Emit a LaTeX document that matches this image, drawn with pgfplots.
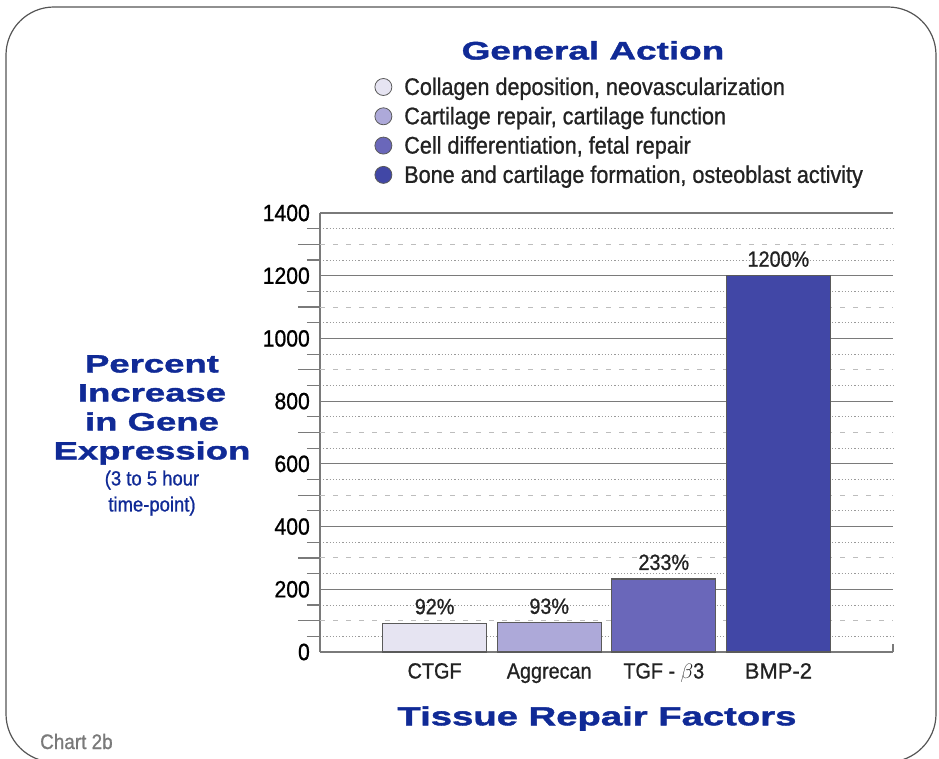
\documentclass[border=0pt]{standalone}
\usepackage{fontspec}
\setmainfont{Liberation Sans}[FakeStretch=0.9, FakeBold=0.9]
\newfontfamily\widefont{Liberation Sans}[FakeStretch=1.46, FakeBold=1.6]
\newfontfamily\plainfont{Liberation Sans}[FakeBold=0.9]
\usepackage{pgfplots}
\pgfplotsset{compat=1.18}

\definecolor{titleblue}{HTML}{102A96}
\definecolor{textdark}{HTML}{222222}
\definecolor{axisgray}{HTML}{7A7A7A}
\definecolor{dotgray}{HTML}{9A9A9A}
\definecolor{dashgray}{HTML}{BDBDBD}
\definecolor{bardraw}{HTML}{5A5A5A}
\definecolor{chartgray}{HTML}{7A7A7A}
\definecolor{bordergray}{HTML}{555555}
\definecolor{cA}{HTML}{E6E4F2}
\definecolor{cB}{HTML}{ADA9D9}
\definecolor{cC}{HTML}{6A67BA}
\definecolor{cD}{HTML}{4147A6}

\pgfplotsset{
  circle legend/.style={
    legend image code/.code={
      \draw[##1, draw=bardraw, line width=0.8pt] (8.5pt,0pt) circle (8.5pt);
    }
  }
}

\begin{document}
\begin{tikzpicture}[x=1pt, y=1pt]
  \path[use as bounding box] (0,0) rectangle (939,758);
  \begin{scope}
    \clip (0,0) rectangle (939,758);
    \draw[bordergray, line width=1.2pt, rounded corners=48pt] (6,-4) rectangle (936,751);
  \end{scope}
  \node[anchor=base west, inner sep=0pt, text=chartgray,
        font=\fontsize{21}{25}\selectfont] at (40,9) {Chart 2b};

  \begin{axis}[
    at={(320pt,106pt)}, anchor=south west,
    scale only axis, width=573pt, height=439pt,
    xmin=-1, xmax=4, ymin=0, ymax=1400,
    axis lines*=left,
    axis line style={draw=axisgray, line width=1.2pt},
    tick style={draw=axisgray, line width=1.2pt},
    tick align=outside,
    major tick length=0pt,
    minor tick length=13pt,
    ytick={0,200,...,1400},
    minor ytick={50,150,...,1350},
    extra y ticks={100,300,...,1300},
    extra y tick labels={},
    extra y tick style={grid=major, major tick length=22pt,
      major grid style={draw=dashgray, line width=1pt, dash pattern=on 5pt off 8pt}},
    ymajorgrids, yminorgrids,
    major grid style={draw=axisgray, line width=1.2pt},
    minor grid style={draw=dotgray, line width=0.8pt, dash pattern=on 1.2pt off 2pt},
    scaled y ticks=false,
    /pgf/number format/assume math mode=true,
    /pgf/number format/1000 sep={},
    yticklabel style={font=\fontsize{23.5}{27}\selectfont, text=black,
      anchor=east, inner sep=0pt, xshift=-10pt},
    xtick={0,1,2,3},
    xticklabels={CTGF, Aggrecan, {TGF - $\beta$3}, {\plainfont BMP-2}},
    xticklabel style={font=\fontsize{22}{26}\selectfont, text=textdark,
      anchor=base, inner sep=0pt, yshift=-26.5pt},
    extra x ticks={4},
    extra x tick labels={},
    extra x tick style={major tick length=8pt, tick align=inside},
    ybar, bar width=104pt, bar shift=0pt,
    point meta=explicit symbolic,
    nodes near coords,
    nodes near coords style={anchor=base, yshift=9pt, inner sep=0pt,
      font=\fontsize{22}{26}\selectfont, text=textdark},
    title={General Action},
    title style={at={(0.4764,1.336)}, anchor=base, inner sep=0pt,
      font=\widefont\bfseries\fontsize{25.3}{30}\selectfont, text=titleblue},
    xlabel={Tissue Repair Factors},
    xlabel style={at={(0.4834,-0.167)}, anchor=base, inner sep=0pt,
      font=\widefont\bfseries\fontsize{26.2}{30}\selectfont, text=titleblue},
    ylabel={Percent\\Increase\\in Gene\\Expression\\[-3pt]%
      {\normalfont\mdseries\fontsize{20.5}{26}\selectfont (3 to 5 hour}\\[-3pt]%
      {\normalfont\mdseries\fontsize{20.5}{26}\selectfont time-point)}},
    ylabel style={rotate=-90, at={(-0.2932,0.6765)}, anchor=north,
      inner sep=0pt, align=center,
      font=\widefont\bfseries\fontsize{25}{29}\selectfont, text=titleblue},
    legend cell align=left,
    legend style={at={(0.0951,1.3121)}, anchor=north west, draw=none,
      fill=none, inner sep=0pt, outer sep=0pt,
      font=\fontsize{24}{28}\selectfont, text=textdark,
      row sep=7.3pt, column sep=12pt,
      nodes={inner sep=0pt, text height=19pt, text depth=3pt}},
  ]
    \addplot[fill=cA, draw=bardraw, line width=1.2pt, circle legend]
      coordinates {(0,92) [92\%]};
    \addplot[fill=cB, draw=bardraw, line width=1.2pt, circle legend]
      coordinates {(1,93) [93\%]};
    \addplot[fill=cC, draw=bardraw, line width=1.2pt, circle legend]
      coordinates {(2,233) [233\%]};
    \addplot[fill=cD, draw=bardraw, line width=1.2pt, circle legend]
      coordinates {(3,1200) [1200\%]};
    \legend{{Collagen deposition, neovascularization},
      {Cartilage repair, cartilage function},
      {Cell differentiation, fetal repair},
      {Bone and cartilage formation, osteoblast activity}}
  \end{axis}
\end{tikzpicture}
\end{document}
